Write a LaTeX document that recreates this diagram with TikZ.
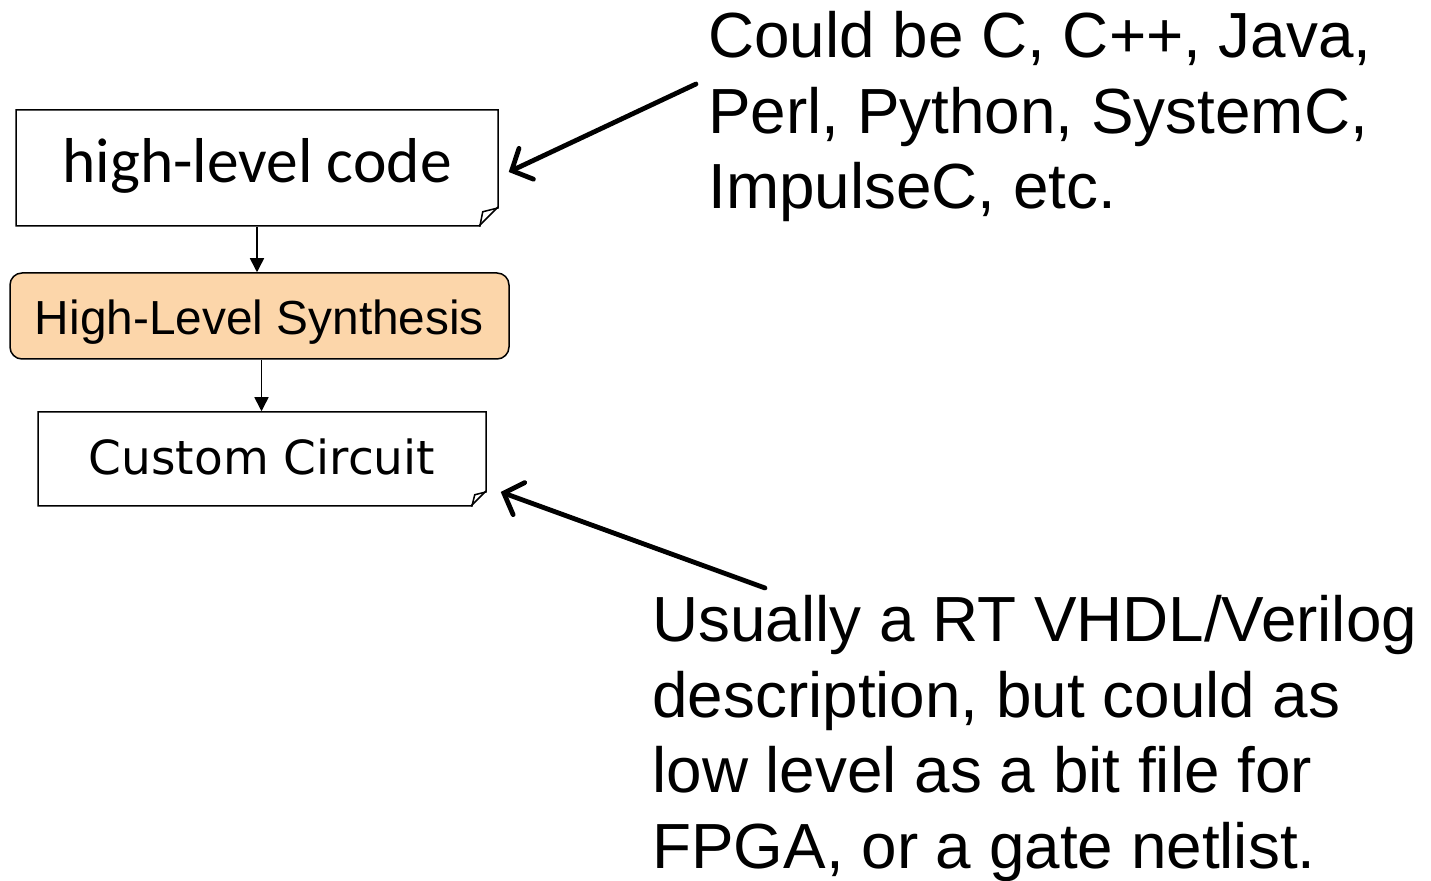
\documentclass[tikz,border=0pt]{standalone}
\usepackage{fontspec}
\setmainfont{Liberation Sans}
\newfontfamily\docfont{DejaVu Sans}
\newfontfamily\codefont{Carlito}
\usetikzlibrary{arrows.meta,calc,shapes.misc}
\definecolor{hlsfill}{RGB}{252,214,170}

\begin{document}
\begin{tikzpicture}[x=0.5pt,y=-0.5pt,>=Latex,
  doc/.style={chamfered rectangle,chamfered rectangle corners=south east,draw,line width=0.75pt,inner sep=0pt,text depth=0pt},
  flow/.style={line width=0.8pt,-{Triangle[length=7pt,width=7pt]}},
  note/.style={align=left,anchor=north west,inner sep=0pt,font=\fontsize{31.9}{37.8}\selectfont},
  pointer/.style={line width=2.4pt,line cap=round,-{Straight Barb[length=8pt,width=17pt,line cap=round]}}]
\useasboundingbox (0,0) rectangle (1431,881);
\node[doc,chamfered rectangle xsep=4.75pt,chamfered rectangle ysep=4.75pt,minimum width=241pt,minimum height=58pt,text height=15pt,font=\codefont\fontsize{31.7}{36}\selectfont] (hlc) at (257,168) {high-level code};
\node[draw,line width=0.75pt,rounded corners=6pt,fill=hlsfill,minimum width=249.5pt,minimum height=43pt,inner sep=0pt,text height=19pt,text depth=0pt,font=\fontsize{23.9}{28}\selectfont] (hls) at (259.5,316) {High-Level Synthesis};
\node[doc,chamfered rectangle xsep=3.75pt,chamfered rectangle ysep=3.75pt,minimum width=224pt,minimum height=47pt,text height=16pt,font=\docfont\fontsize{23.5}{28}\selectfont] (cc) at (262,459) {Custom Circuit};
% folded corners
\coordinate (c1) at ($(hlc.east |- hlc.south)$);
\draw[line width=0.75pt] ($(c1)+(-19,0)$) -- ($(c1)+(-16,-15)$) -- ($(c1)+(0,-19)$);
\coordinate (c2) at ($(cc.east |- cc.south)$);
\draw[line width=0.75pt] ($(c2)+(-15,0)$) -- ($(c2)+(-12,-12)$) -- ($(c2)+(0,-15)$);
% flow
\draw[flow] (hlc.south) -- (hlc.south |- hls.north);
\draw[flow] ([xshift=1pt]hls.south) -- ([xshift=1pt]hls.south |- cc.north);
% notes
\node[note] (lang) at (708,11) {Could be C, C++, Java,\\Perl, Python, SystemC,\\ImpulseC, etc.};
\node[note] (rtl) at (652,595) {Usually a RT VHDL/Verilog\\description, but could as\\low level as a bit file for\\FPGA, or a gate netlist.};
\coordinate (lang tail) at (696,84);
\coordinate (rtl tail) at (765,588);
\draw[pointer] (lang tail) -- ($(hlc.east)+(10,4)$);
\draw[pointer] (rtl tail) -- ($(cc.east)+(14,33)$);
\end{tikzpicture}
\end{document}
